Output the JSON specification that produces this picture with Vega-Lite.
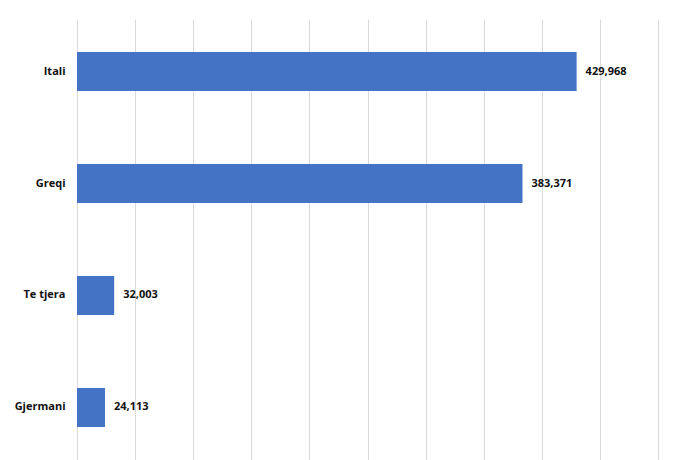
{
  "$schema": "https://vega.github.io/schema/vega-lite/v6.json",
  "width": 581,
  "height": 441,
  "autosize": {"type": "none"},
  "padding": {"left": 77, "top": 19, "right": 42, "bottom": 0},
  "background": "white",
  "config": {"view": {"stroke": null}},
  "data": {
    "values": [
      {"country": "Itali", "value": 429968},
      {"country": "Greqi", "value": 383371},
      {"country": "Te tjera", "value": 32003},
      {"country": "Gjermani", "value": 24113}
    ]
  },
  "encoding": {
    "y": {
      "field": "country",
      "type": "nominal",
      "sort": ["Itali", "Greqi", "Te tjera", "Gjermani"],
      "scale": {"paddingInner": 0.65, "paddingOuter": 0.294},
      "axis": {
        "title": null,
        "ticks": false,
        "domain": false,
        "labelFont": "Open Sans",
        "labelFontWeight": "bold",
        "labelFontSize": 11,
        "labelColor": "#111111",
        "labelPadding": 12
      }
    },
    "x": {
      "field": "value",
      "type": "quantitative",
      "scale": {"domain": [0, 500000], "nice": false},
      "axis": {
        "title": null,
        "labels": false,
        "ticks": false,
        "domain": false,
        "grid": true,
        "gridColor": "#d9d9d9",
        "gridWidth": 1,
        "values": [0, 50000, 100000, 150000, 200000, 250000, 300000, 350000, 400000, 450000, 500000]
      }
    }
  },
  "layer": [
    {"mark": {"type": "bar", "color": "#4472C4"}},
    {
      "mark": {
        "type": "text",
        "align": "left",
        "baseline": "middle",
        "dx": 9,
        "font": "Open Sans",
        "fontWeight": "bold",
        "fontSize": 11,
        "color": "#111111"
      },
      "encoding": {
        "text": {"field": "value", "type": "quantitative", "format": ",d"}
      }
    }
  ]
}
